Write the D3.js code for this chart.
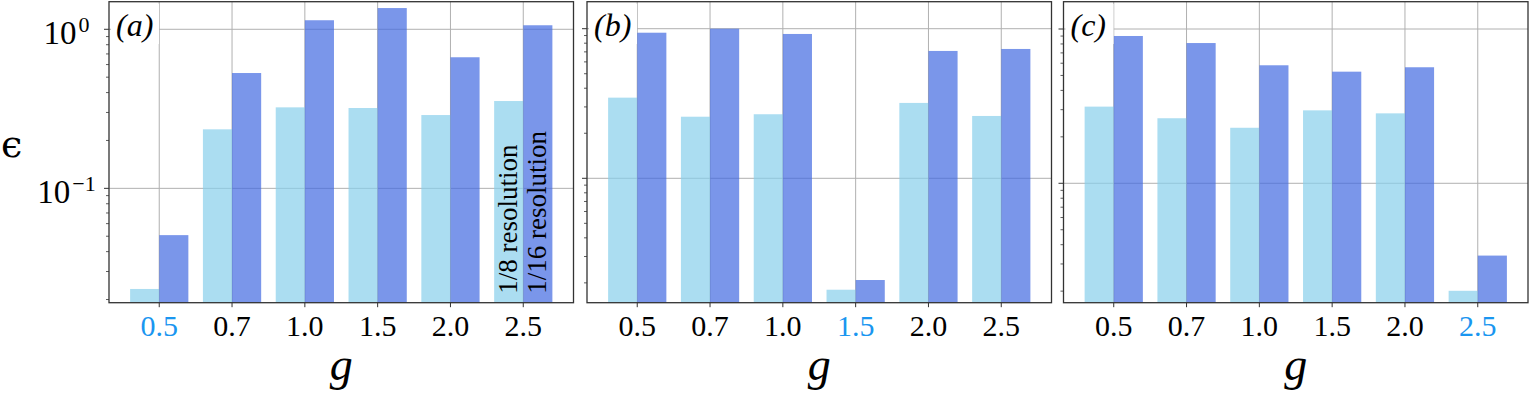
<!DOCTYPE html>
<html>
<head>
<meta charset="utf-8">
<script src="https://cdn.jsdelivr.net/npm/d3@7"></script>
<style>
  body { margin: 0; background: #fff; }
  svg { display: block; }
  text { font-family: "Liberation Serif", "Times New Roman", serif; }
</style>
</head>
<body>
<script>
const categories = ["0.5", "0.7", "1.0", "1.5", "2.0", "2.5"];

const panelNames = ["(a)", "(b)", "(c)"];
const highlighted = [0, 3, 5];

// epsilon, 1/8 resolution (light) and 1/16 resolution (dark)
const lightA = [0.0233, 0.235, 0.323, 0.32, 0.289, 0.354];
const darkA = [0.0508, 0.531, 1.14, 1.36, 0.667, 1.06];
const lightB = [0.346, 0.258, 0.268, 0.018, 0.319, 0.261];
const darkB = [0.94, 1.0, 0.922, 0.0209, 0.71, 0.732];
const lightC = [0.314, 0.264, 0.229, 0.297, 0.284, 0.0201];
const darkC = [0.901, 0.811, 0.582, 0.529, 0.565, 0.034];

const yMin = [0.0191, 0.01474, 0.01683];
const yMax = [1.491, 1.515, 1.503];
const majorTicks = [1, 0.1];
const seriesNames = ["1/8 resolution", "1/16 resolution"];

const width = 1530;
const height = 393;
const lefts = [109, 587, 1063.5];
const panelW = 464.5;
const plotTop = 1.7, plotBottom = 302.7;

const lightColor = "skyblue";
const darkColor = "royalblue";
const hiColor = "#1a96f0";

const svg = d3.select("body").append("svg")
  .attr("width", width)
  .attr("height", height);

const panels = [[lightA, darkA], [lightB, darkB], [lightC, darkC]];

panels.forEach(([light, dark], p) => {
  const x0 = lefts[p];
  const x = d3.scaleLinear().domain([-0.69, categories.length - 1 + 0.69]).range([x0, x0 + panelW]);
  const y = d3.scaleLog().domain([yMin[p], yMax[p]]).range([plotBottom, plotTop]);
  const bw = x(0.4) - x(0);

  const g = svg.append("g");

  // grid
  g.selectAll(".vgrid").data(categories).enter().append("line")
    .attr("x1", (d, i) => x(i)).attr("x2", (d, i) => x(i))
    .attr("y1", plotTop).attr("y2", plotBottom)
    .attr("stroke", "#b0b0b0").attr("stroke-width", 1);
  g.selectAll(".hgrid").data(majorTicks).enter().append("line")
    .attr("x1", x0).attr("x2", x0 + panelW)
    .attr("y1", d => y(d)).attr("y2", d => y(d))
    .attr("stroke", "#b0b0b0").attr("stroke-width", 1);

  // bars
  g.selectAll(".light").data(light).enter().append("rect")
    .attr("x", (d, i) => x(i) - bw)
    .attr("width", bw)
    .attr("y", d => y(d))
    .attr("height", d => plotBottom - y(d))
    .attr("fill", lightColor).attr("fill-opacity", 0.7);
  g.selectAll(".dark").data(dark).enter().append("rect")
    .attr("x", (d, i) => x(i))
    .attr("width", bw)
    .attr("y", d => y(d))
    .attr("height", d => plotBottom - y(d))
    .attr("fill", darkColor).attr("fill-opacity", 0.7);

  // minor y ticks
  const minor = [];
  [-2, -1, 0].forEach(k => {
    for (let m = 2; m <= 9; m++) {
      const v = m * Math.pow(10, k);
      if (v > yMin[p] && v < yMax[p]) minor.push(v);
    }
  });
  g.selectAll(".minor").data(minor).enter().append("line")
    .attr("x1", x0 - 3).attr("x2", x0)
    .attr("y1", d => y(d)).attr("y2", d => y(d))
    .attr("stroke", "#333").attr("stroke-width", 0.8);
  g.selectAll(".major").data(majorTicks).enter().append("line")
    .attr("x1", x0 - 5).attr("x2", x0)
    .attr("y1", d => y(d)).attr("y2", d => y(d))
    .attr("stroke", "#333").attr("stroke-width", 1);

  // x ticks
  g.selectAll(".xtick").data(categories).enter().append("line")
    .attr("x1", (d, i) => x(i)).attr("x2", (d, i) => x(i))
    .attr("y1", plotBottom).attr("y2", plotBottom + 4.5)
    .attr("stroke", "#333").attr("stroke-width", 1);
  g.selectAll(".xlabel").data(categories).enter().append("text")
    .attr("x", (d, i) => x(i))
    .attr("y", 336)
    .attr("text-anchor", "middle")
    .attr("font-size", 30)
    .attr("fill", (d, i) => i === highlighted[p] ? hiColor : "#000")
    .text(d => d);

  // frame
  g.append("rect")
    .attr("x", x0).attr("y", plotTop)
    .attr("width", panelW).attr("height", plotBottom - plotTop)
    .attr("fill", "none").attr("stroke", "#333").attr("stroke-width", 1.3);

  // panel label with white box
  g.append("rect")
    .attr("x", x0 + 2).attr("y", 4).attr("width", 48).attr("height", 40)
    .attr("fill", "#fff");
  g.append("text")
    .attr("x", x0 + 7).attr("y", 36)
    .attr("font-style", "italic")
    .attr("font-size", 32)
    .text(panelNames[p]);

  // x axis title
  g.append("text")
    .attr("x", x0 + panelW / 2)
    .attr("y", 380)
    .attr("text-anchor", "middle")
    .attr("font-style", "italic")
    .attr("font-size", 46)
    .text("g");

  if (p === 0) {
    // y tick labels
    const yl = g.selectAll(".ylabel").data(majorTicks).enter().append("text")
      .attr("x", 66.5)
      .attr("y", d => y(d) + 15)
      .attr("text-anchor", "middle")
      .attr("font-size", 33);
    yl.append("tspan").text("10");
    yl.append("tspan")
      .attr("dx", 2)
      .attr("dy", -12)
      .attr("font-size", 22)
      .text(d => d === 1 ? "0" : "\u22121");

    // y axis title
    svg.append("text")
      .attr("x", 1)
      .attr("y", 157)
      .style("font-family", "'DejaVu Serif', serif")
      .attr("font-size", 38)
      .text("\u03F5");

    // series labels, rotated inside the last group
    const last = categories.length - 1;
    g.selectAll(".series").data(seriesNames).enter().append("text")
      .attr("transform", (d, i) => `translate(${x(last) - bw / 2 + i * bw + 8},${plotBottom - 9}) rotate(-90)`)
      .attr("font-size", 27)
      .text(d => d);
  }
});
</script>
</body>
</html>
